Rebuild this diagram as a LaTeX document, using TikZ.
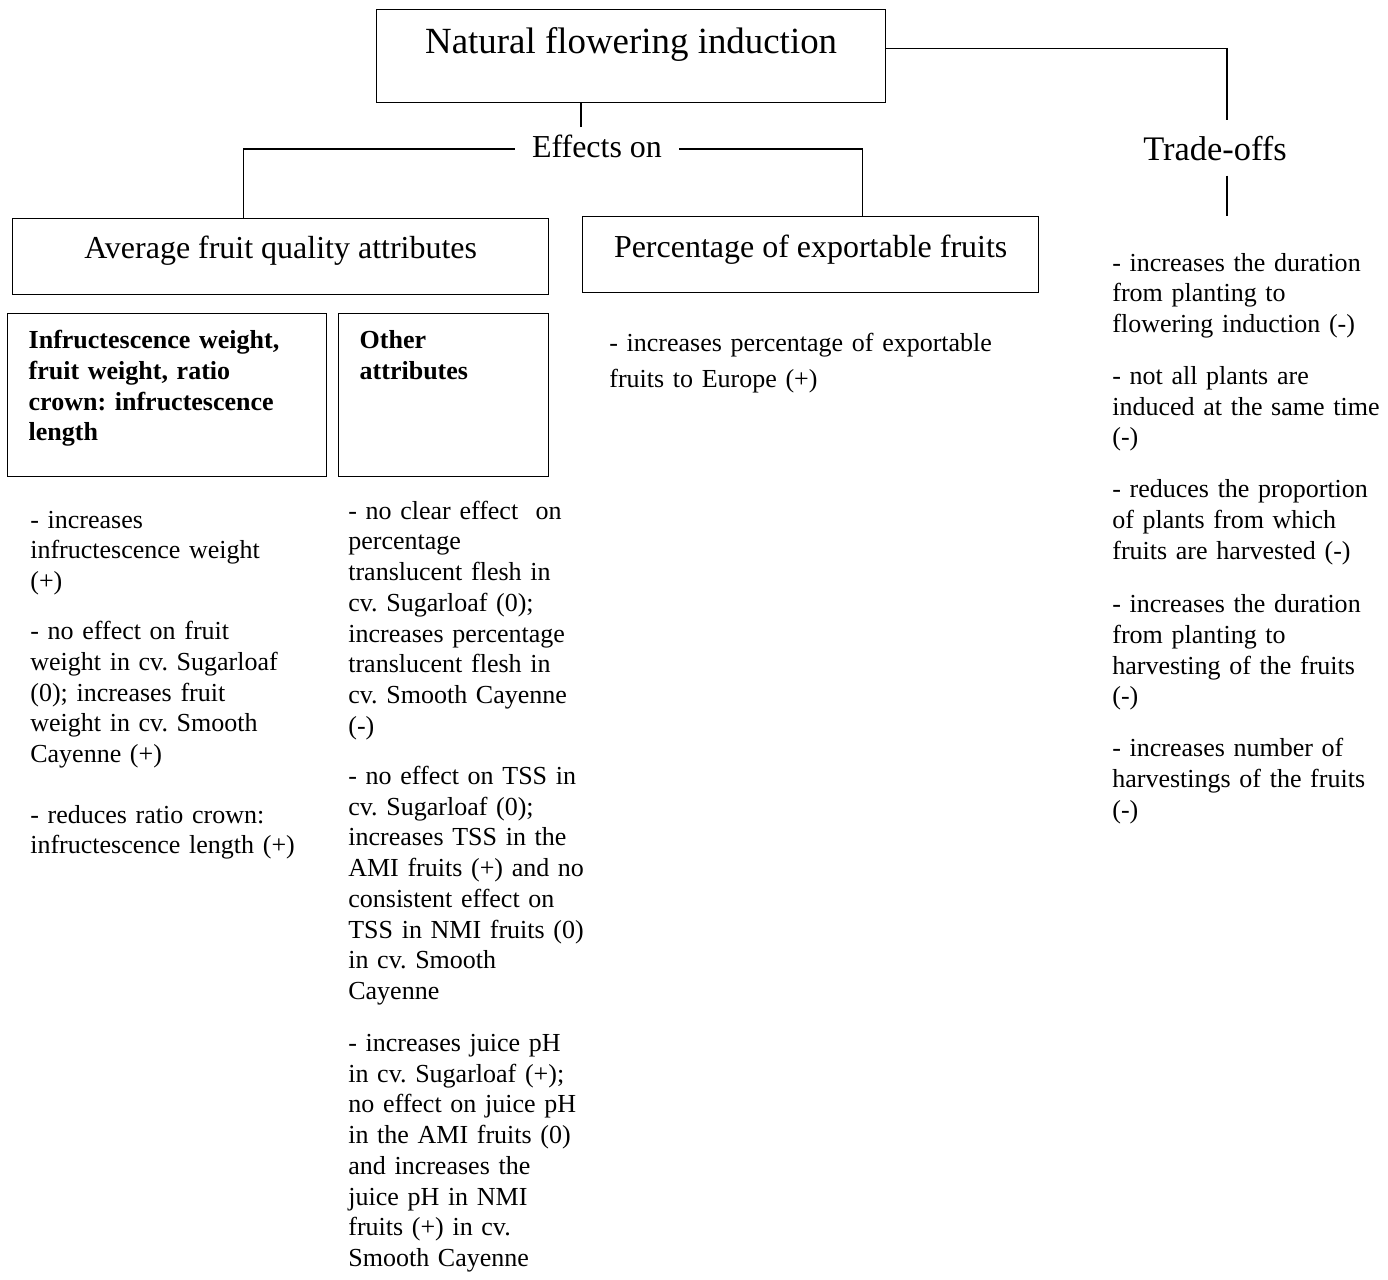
\documentclass[tikz,border=0pt]{standalone}
\usepackage{fontspec}
\setmainfont{Liberation Serif}
\usetikzlibrary{positioning}
\frenchspacing

\newcommand{\titlefont}{\fontsize{21}{24}\selectfont}
\newcommand{\headfont}{\fontsize{18.2}{21}\selectfont}
\newcommand{\bodyfont}{\fontsize{14.8}{17.5}\selectfont}

\tikzset{
    mainbox/.style={
        draw,
        line width=0.8pt,
        anchor=north west,
        inner sep=0pt,
        align=center
    },
    subbox/.style={
        draw,
        line width=0.8pt,
        anchor=north west,
        inner xsep=0.42cm,
        inner ysep=0pt,
        align=left,
        text height=0.7cm,
        text depth=2.56cm,
        font=\bodyfont\bfseries
    },
    effectlist/.style={
        anchor=base west,
        inner sep=0pt,
        align=left,
        font=\bodyfont
    },
    heading/.style={anchor=base, font=\headfont},
    link/.style={line width=0.8pt}
}

\begin{document}
\begin{tikzpicture}[x=0.02cm, y=-0.02cm]
\useasboundingbox (0,0) rectangle (1388,1279);

% top of the tree
\node[mainbox, font=\titlefont, minimum width=10.18cm, text height=0.88cm, text depth=0.98cm] (induction) at (376,9) {Natural flowering induction};
\node[heading, inner xsep=0.34cm, inner ysep=0.14cm] (effects) at (597,157) {Effects on};
\node[heading, font=\fontsize{19.6}{22}\selectfont, inner ysep=0.3cm] (tradeoffs) at (1215,160) {Trade-offs};

% second level
\node[mainbox, font=\headfont, minimum width=10.72cm, text height=0.8cm, text depth=0.72cm] (quality) at (12,218) {Average fruit quality attributes};
\node[mainbox, font=\headfont, minimum width=9.12cm, text height=0.82cm, text depth=0.7cm] (exportable) at (582,216) {Percentage of exportable fruits};

\node[subbox, text width=5.54cm] (weights) at (7,313) {Infructescence weight,\\ fruit weight, ratio\\ crown: infructescence\\ length};
\node[subbox, text width=3.36cm] (others) at (338,313) {Other\\ attributes};

% connectors
\draw[link] ([xshift=-0.32cm]effects.north) -- ([xshift=-0.32cm]effects.north |- induction.south);
\draw[link] ([yshift=-0.06cm]effects.west) -| ([xshift=-0.74cm]quality.north);
\draw[link] ([yshift=-0.06cm]effects.east) -| ([xshift=1.04cm]exportable.north);
\draw[link] ([yshift=0.15cm]induction.east) -| ([xshift=0.24cm]tradeoffs.north);
\draw[link] ([xshift=0.24cm]tradeoffs.south) -- ++(0,40);

% lists of effects
\node[effectlist, text width=5.6cm] (weightlist) at (30,528) {- increases\\
infructescence weight\\
(+)\\[11pt]
- no effect on fruit\\
weight in cv. Sugarloaf\\
(0); increases fruit\\
weight in cv. Smooth\\
Cayenne (+)\\[17pt]
- reduces ratio crown:\\
infructescence length (+)};

\node[effectlist, text width=4.9cm] (otherlist) at (348,519) {- no clear effect \ on\\
percentage\\
translucent flesh in\\
cv. Sugarloaf (0);\\
increases percentage\\
translucent flesh in\\
cv. Smooth Cayenne\\
(-)\\[11pt]
- no effect on TSS in\\
cv. Sugarloaf (0);\\
increases TSS in the\\
AMI fruits (+) and no\\
consistent effect on\\
TSS in NMI fruits (0)\\
in cv. Smooth\\
Cayenne\\[12pt]
- increases juice pH\\
in cv. Sugarloaf (+);\\
no effect on juice pH\\
in the AMI fruits (0)\\
and increases the\\
juice pH in NMI\\
fruits (+) in cv.\\
Smooth Cayenne};

\node[effectlist, font=\fontsize{14.8}{20.5}\selectfont, text width=8.5cm] (exportlist) at (609,351) {- increases percentage of exportable\\
fruits to Europe (+)};

\node[effectlist, text width=5.5cm] (tradelist) at (1112,271) {- increases the duration\\
from planting to\\
flowering induction (-)\\[12pt]
- not all plants are\\
induced at the same time\\
(-)\\[12pt]
- reduces the proportion\\
of plants from which\\
fruits are harvested (-)\\[13pt]
- increases the duration\\
from planting to\\
harvesting of the fruits\\
(-)\\[12pt]
- increases number of\\
harvestings of the fruits\\
(-)};
\end{tikzpicture}
\end{document}
